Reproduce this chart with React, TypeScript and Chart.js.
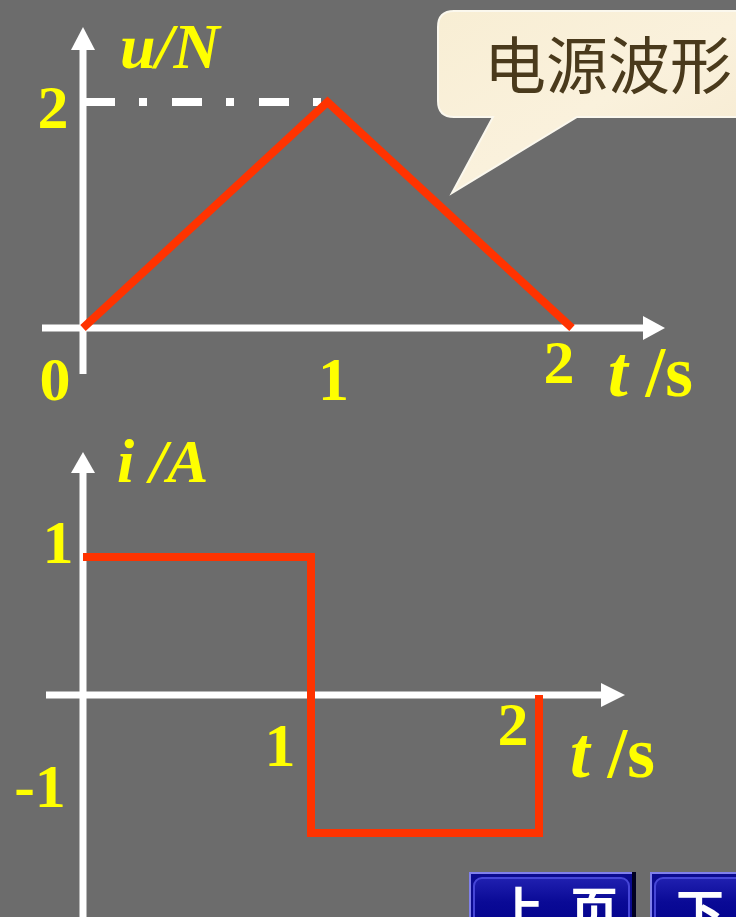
import React, { useEffect, useRef } from "react";
import { Chart, registerables } from "chart.js";

Chart.register(...registerables);

// ---- data ----
const uTimes = [0, 1, 2];
const uVolts = [0, 2, 0];
const iTimes = [0, 1, 1, 2, 2];
const iAmps = [1, 1, -1, -1, 0];
const uXTicks = ["0", "1", "2"];
const uYTicks = ["2"];
const iXTicks = ["1", "2"];
const iYTicks = ["1", "-1"];
const uTitle = "u/N";
const iTitle = "i /A";
const tTitleItalic = "t";
const tTitleRest = " /s";
const calloutText = "电源波形";
const btnPrev = ["上", "页"];
const btnNext = ["下"];

const BG = "#6c6c6c";
const RED = "#ff3300";
const WHITE = "#ffffff";
const YELLOW = "#ffff00";
const FONT = '"Liberation Serif", "Times New Roman", serif';

function seg(ctx: CanvasRenderingContext2D, x1: number, y1: number, x2: number, y2: number) {
  ctx.beginPath();
  ctx.moveTo(x1, y1);
  ctx.lineTo(x2, y2);
  ctx.stroke();
}
function arrowUp(ctx: CanvasRenderingContext2D, x: number, tipY: number, h: number, hw: number) {
  ctx.beginPath();
  ctx.moveTo(x, tipY);
  ctx.lineTo(x + hw, tipY + h);
  ctx.lineTo(x - hw, tipY + h);
  ctx.closePath();
  ctx.fill();
}
function arrowRight(ctx: CanvasRenderingContext2D, tipX: number, y: number, h: number, hw: number) {
  ctx.beginPath();
  ctx.moveTo(tipX, y);
  ctx.lineTo(tipX - h, y - hw);
  ctx.lineTo(tipX - h, y + hw);
  ctx.closePath();
  ctx.fill();
}
function label(ctx: CanvasRenderingContext2D, text: string, x: number, y: number, align: CanvasTextAlign = "center", italic = false, size = 62) {
  ctx.font = `${italic ? "italic " : ""}bold ${size}px ${FONT}`;
  ctx.textAlign = align;
  ctx.textBaseline = "alphabetic";
  ctx.fillText(text, x, y);
}
function tLabel(ctx: CanvasRenderingContext2D, x: number, y: number) {
  ctx.font = `italic bold 71px ${FONT}`;
  ctx.textAlign = "left";
  ctx.textBaseline = "alphabetic";
  ctx.fillText(tTitleItalic, x, y);
  const w = ctx.measureText(tTitleItalic).width;
  ctx.font = `bold 71px ${FONT}`;
  ctx.fillText(tTitleRest, x + w, y);
}

const topDecor = {
  id: "topDecor",
  beforeDatasetsDraw(chart: any) {
    const { ctx, chartArea: a, scales } = chart;
    const x = scales.x, y = scales.y;
    const x0 = x.getPixelForValue(0), y0 = y.getPixelForValue(0);
    ctx.save();
    ctx.strokeStyle = WHITE;
    ctx.fillStyle = WHITE;
    ctx.lineWidth = 7;
    ctx.lineCap = "butt";
    seg(ctx, x0, y0 + 46, x0, a.top - 53);
    arrowUp(ctx, x0, a.top - 75, 23, 12);
    seg(ctx, x0 - 41, y0, a.right + 71, y0);
    arrowRight(ctx, a.right + 93, y0, 22, 12);
    const yMax = y.getPixelForValue(Number(uYTicks[0]));
    ctx.setLineDash([30, 24, 8, 25]);
    ctx.lineWidth = 8;
    seg(ctx, x0 + 2, yMax, x.getPixelForValue(1) - 4, yMax);
    ctx.restore();
  },
  afterDatasetsDraw(chart: any) {
    const { ctx, scales } = chart;
    const x = scales.x, y = scales.y;
    const x0 = x.getPixelForValue(0), y0 = y.getPixelForValue(0);
    ctx.save();
    ctx.fillStyle = YELLOW;
    label(ctx, uTitle, x0 + 37, y.getPixelForValue(2) - 34, "left", true, 64);
    label(ctx, uYTicks[0], x0 - 30, y.getPixelForValue(Number(uYTicks[0])) + 26);
    label(ctx, uXTicks[0], x.getPixelForValue(Number(uXTicks[0])) - 28, y0 + 72);
    label(ctx, uXTicks[1], x.getPixelForValue(Number(uXTicks[1])) + 6, y0 + 72);
    label(ctx, uXTicks[2], x.getPixelForValue(Number(uXTicks[2])) - 13, y0 + 55);
    tLabel(ctx, x.getPixelForValue(2) + 36, y0 + 68);
    ctx.restore();
  },
};

const bottomDecor = {
  id: "bottomDecor",
  beforeDatasetsDraw(chart: any) {
    const { ctx, chartArea: a, scales, height } = chart;
    const x = scales.x, y = scales.y;
    const x0 = x.getPixelForValue(0), y0 = y.getPixelForValue(0);
    ctx.save();
    ctx.strokeStyle = WHITE;
    ctx.fillStyle = WHITE;
    ctx.lineWidth = 7;
    seg(ctx, x0, height + 5, x0, a.top - 84);
    arrowUp(ctx, x0, a.top - 105, 21, 12);
    seg(ctx, x0 - 37, y0, a.right + 64, y0);
    arrowRight(ctx, a.right + 86, y0, 24, 12);
    ctx.restore();
  },
  afterDatasetsDraw(chart: any) {
    const { ctx, scales } = chart;
    const x = scales.x, y = scales.y;
    const x0 = x.getPixelForValue(0), y0 = y.getPixelForValue(0);
    ctx.save();
    ctx.fillStyle = YELLOW;
    label(ctx, iTitle, x0 + 34, y.getPixelForValue(1) - 75, "left", true);
    label(ctx, iYTicks[0], x0 - 25, y.getPixelForValue(Number(iYTicks[0])) + 6);
    label(ctx, iYTicks[1], x0 - 43, y.getPixelForValue(Number(iYTicks[1])) - 26);
    label(ctx, iXTicks[0], x.getPixelForValue(Number(iXTicks[0])) - 31, y0 + 71);
    label(ctx, iXTicks[1], x.getPixelForValue(Number(iXTicks[1])) - 26, y0 + 50);
    tLabel(ctx, x.getPixelForValue(2) + 31, y0 + 82);
    ctx.restore();
  },
};

function makeChart(canvas: HTMLCanvasElement, xs: number[], ys: number[], yMin: number, yMax: number, padding: any, plugin: any) {
  return new Chart(canvas, {
    type: "line",
    data: {
      datasets: [
        {
          data: xs.map((t, i) => ({ x: t, y: ys[i] })),
          borderColor: RED,
          borderWidth: 8,
          pointRadius: 0,
          tension: 0,
          borderJoinStyle: "miter",
          borderCapStyle: "butt",
          clip: false as any,
          fill: false,
        } as any,
      ],
    },
    options: {
      animation: false,
      responsive: false,
      events: [],
      layout: { padding },
      scales: {
        x: { type: "linear", min: 0, max: 2, display: false },
        y: { type: "linear", min: yMin, max: yMax, display: false },
      },
      plugins: { legend: { display: false }, tooltip: { enabled: false } },
    },
    plugins: [plugin],
  });
}

export default function App() {
  const topRef = useRef<HTMLCanvasElement>(null);
  const botRef = useRef<HTMLCanvasElement>(null);

  useEffect(() => {
    document.body.style.margin = "0";
    document.body.style.background = BG;
    const c1 = makeChart(topRef.current!, uTimes, uVolts, 0, 2, { left: 83, right: 164, top: 102, bottom: 92 }, topDecor);
    const c2 = makeChart(botRef.current!, iTimes, iAmps, -1, 1, { left: 83, right: 197, top: 137, bottom: 84 }, bottomDecor);
    return () => {
      c1.destroy();
      c2.destroy();
    };
  }, []);

  return (
    <div style={{ position: "relative", width: 736, height: 917, background: BG, overflow: "hidden" }}>
      <canvas ref={topRef} width={736} height={420} style={{ position: "absolute", left: 0, top: 0, width: 736, height: 420 }} />
      <canvas ref={botRef} width={736} height={497} style={{ position: "absolute", left: 0, top: 420, width: 736, height: 497 }} />
      <svg width={736} height={917} style={{ position: "absolute", left: 0, top: 0, pointerEvents: "none" }}>
        <defs>
          <linearGradient id="cream" x1="0" y1="0" x2="1" y2="1">
            <stop offset="0" stopColor="#f8eed4" />
            <stop offset="0.5" stopColor="#faf1dc" />
            <stop offset="1" stopColor="#f5e9cf" />
          </linearGradient>
          <linearGradient id="btnInner" x1="0" y1="0" x2="0" y2="1">
            <stop offset="0" stopColor="#2020b0" />
            <stop offset="0.4" stopColor="#0a0a96" />
            <stop offset="1" stopColor="#000088" />
          </linearGradient>
        </defs>
        <path
          d="M 454 11 H 760 V 117 H 577 L 452 193 L 493 117 H 454 Q 438 117 438 101 V 27 Q 438 11 454 11 Z"
          fill="url(#cream)"
          stroke="#fbf8ee"
          strokeWidth={2}
        />
        <text x={484} y={89} fontFamily='"Noto Sans CJK SC"' fontSize={62} fill="#4a3a1c">
          {calloutText}
        </text>
        {/* prev button */}
        <rect x={469} y={872} width={167} height={60} fill="#8080ec" />
        <rect x={471} y={874} width={165} height={60} fill="#0a0a90" />
        <rect x={632} y={872} width={4} height={60} fill="#000022" />
        <rect x={474} y={878} width={155} height={60} rx={8} fill="url(#btnInner)" stroke="#4646d8" strokeWidth={2} />
        <text x={520} y={927} textAnchor="middle" fontFamily='"Noto Sans CJK SC"' fontWeight={700} fontSize={48} fill={WHITE}>
          {btnPrev[0]}
        </text>
        <text x={594} y={927} textAnchor="middle" fontFamily='"Noto Sans CJK SC"' fontWeight={700} fontSize={48} fill={WHITE}>
          {btnPrev[1]}
        </text>
        {/* next button */}
        <rect x={650} y={872} width={120} height={60} fill="#8080ec" />
        <rect x={652} y={874} width={118} height={60} fill="#0a0a90" />
        <rect x={655} y={878} width={110} height={60} rx={8} fill="url(#btnInner)" stroke="#4646d8" strokeWidth={2} />
        <text x={700} y={929} textAnchor="middle" fontFamily='"Noto Sans CJK SC"' fontWeight={700} fontSize={48} fill={WHITE}>
          {btnNext[0]}
        </text>
      </svg>
    </div>
  );
}
